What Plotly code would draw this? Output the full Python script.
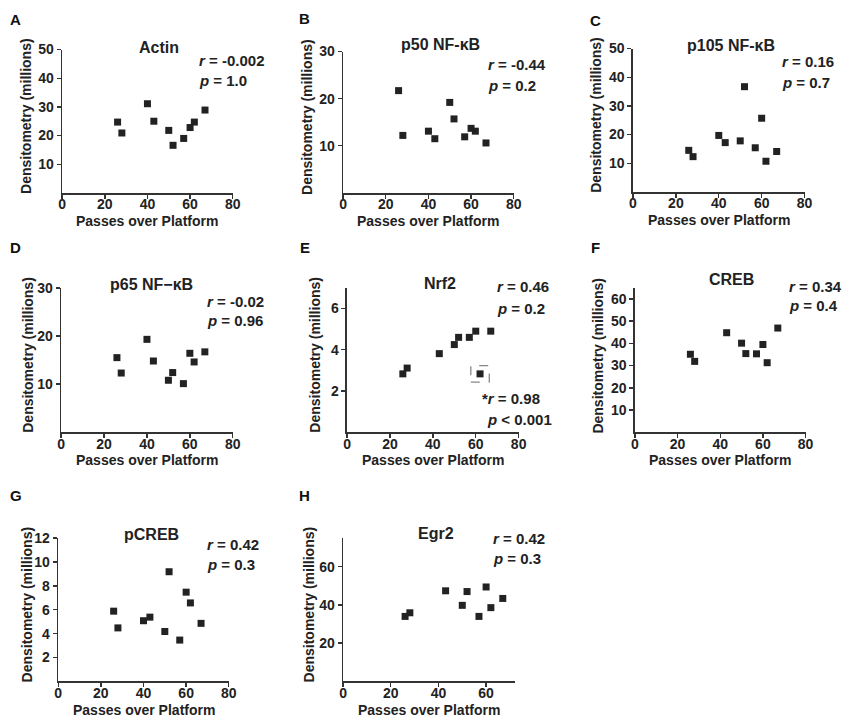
import plotly.graph_objects as go

# ---------------- data ----------------
passes = [26, 28, 40, 43, 50, 52, 57, 60, 62, 67]
passes9 = [26, 28, 43, 50, 52, 57, 60, 62, 67]
nrf2_passes = [26, 28, 43, 50, 52, 57, 60, 67]

actin = [24.7, 20.9, 31.1, 25.0, 21.8, 16.6, 19.0, 22.8, 24.7, 28.9]
p50 = [21.7, 12.2, 13.1, 11.5, 19.2, 15.7, 11.9, 13.7, 13.1, 10.6]
p105 = [14.5, 12.3, 19.7, 17.2, 17.8, 36.7, 15.4, 25.7, 10.7, 14.1]
p65 = [15.5, 12.3, 19.3, 14.8, 10.8, 12.4, 10.1, 16.4, 14.6, 16.7]
nrf2 = [2.83, 3.11, 3.81, 4.25, 4.6, 4.6, 4.9, 4.9]
nrf2_outlier_x = [62]
nrf2_outlier_y = [2.83]
creb = [35.1, 31.9, 44.8, 40.1, 35.4, 35.3, 39.5, 31.3, 46.9]
pcreb = [5.88, 4.48, 5.08, 5.38, 4.18, 9.18, 3.46, 7.47, 6.57, 4.86]
egr2 = [34.0, 35.9, 47.4, 39.8, 47.0, 34.0, 49.4, 38.6, 43.4]

letters = ["A", "B", "C", "D", "E", "F", "G", "H"]
titles = ["Actin", "p50 NF-κB", "p105 NF-κB", "p65 NF−κB", "Nrf2", "CREB", "pCREB", "Egr2"]
r_vals = ["-0.002", "-0.44", "0.16", "-0.02", "0.46", "0.34", "0.42", "0.42"]
p_vals = ["1.0", "0.2", "0.7", "0.96", "0.2", "0.4", "0.3", "0.3"]
y_ranges = [[0, 50], [0, 30], [0, 50], [0, 30], [0, 7], [0, 65], [0, 12], [0, 75]]
y_ticks = [[10, 20, 30, 40, 50], [10, 20, 30], [10, 20, 30, 40, 50], [10, 20, 30],
           [2, 4, 6], [10, 20, 30, 40, 50, 60], [2, 4, 6, 8, 10, 12], [20, 40, 60]]
x_ranges = [[0, 80]] * 7 + [[0, 72]]
x_ticks = [[0, 20, 40, 60, 80]] * 7 + [[0, 20, 40, 60]]
x_title = "Passes over Platform"
y_title = "Densitometry (millions)"

series_x = [passes, passes, passes, passes, nrf2_passes, passes9, passes, passes9]
series_y = [actin, p50, p105, p65, nrf2, creb, pcreb, egr2]

# ---------------- layout geometry (window pixels) ----------------
W, H = 851, 719
# (x0, x1, ytop, ybottom)
boxes = [
    (59, 232, 42, 187), (344, 517, 44, 187), (638, 812, 41, 186),
    (58, 232, 283, 429), (348, 522, 283, 429), (640, 813, 283, 429),
    (55, 228, 536, 681), (344, 518, 536, 681),
]
letter_pos = [(12, 12), (305, 11), (600, 13), (12, 242), (305, 242), (600, 242), (12, 493), (305, 493)]
title_pos = [(157, 40), (443, 37), (737, 38), (150, 280), (442, 279), (738, 275), (150, 532), (438, 531)]
r_pos = [(196, 53), (489, 57), (787, 54), (204, 297), (498, 282), (794, 282), (204, 543), (494, 536)]
p_pos = [(196, 73), (489, 78), (787, 75), (204, 316), (498, 304), (794, 301), (204, 563), (494, 557)]
ytitle_x = [23, 308, 601, 24, 316, 603, 23, 309]

def px(x):
    return x / W

def py(y):
    return 1 - y / H

INK = "#222222"
FONT = "Liberation Sans"

def bold(size, color=INK):
    return dict(family=FONT, size=size, color=color, weight="bold")

def note(text, x, y, size, xanchor="center", angle=0, color=INK):
    return dict(text=text, x=px(x), y=py(y), xref="paper", yref="paper",
                xanchor=xanchor, yanchor="middle", showarrow=False, textangle=angle,
                font=bold(size, color))

fig = go.Figure()
annotations = []
layout = {}

for i in range(8):
    n = "" if i == 0 else str(i + 1)
    x0, x1, yt, yb = boxes[i]
    fig.add_trace(go.Scatter(
        x=series_x[i], y=series_y[i], mode="markers",
        marker=dict(symbol="square", size=7, color=INK),
        xaxis="x" + n, yaxis="y" + n, showlegend=False, cliponaxis=False,
        hoverinfo="skip",
    ))
    axis_common = dict(
        showline=True, linecolor="#333333", linewidth=1.6, ticks="outside",
        ticklen=4, tickwidth=1.4, tickcolor="#333333", showgrid=False, zeroline=False,
        tickfont=bold(14), fixedrange=True,
    )
    layout["xaxis" + n] = dict(axis_common, domain=[px(x0), px(x1)], range=x_ranges[i],
                               tickvals=x_ticks[i], anchor="y" + n, ticklabelstandoff=-6)
    layout["yaxis" + n] = dict(axis_common, domain=[py(yb), py(yt)], range=y_ranges[i],
                               tickvals=y_ticks[i], anchor="x" + n)
    # axis titles
    annotations.append(note(x_title, (x0 + x1) / 2, yb + 28.5, 14))
    annotations.append(note(y_title, ytitle_x[i], (yt + yb) / 2 - 5, 14, angle=-90))
    # panel letter, title, statistics
    annotations.append(note(letters[i], *letter_pos[i], 15, color="#111111"))
    annotations.append(note(titles[i], *title_pos[i], 16))
    annotations.append(note("<i>r</i> = " + r_vals[i], *r_pos[i], 15, xanchor="left"))
    annotations.append(note("<i>p</i> = " + p_vals[i], *p_pos[i], 15, xanchor="left"))

# Nrf2 outlier and its dashed box
fig.add_trace(go.Scatter(
    x=nrf2_outlier_x, y=nrf2_outlier_y, mode="markers",
    marker=dict(symbol="square", size=7, color=INK),
    xaxis="x5", yaxis="y5", showlegend=False, cliponaxis=False, hoverinfo="skip",
))
shapes = [dict(type="rect", xref="x5", yref="y5",
               x0=nrf2_outlier_x[0] - 4.3, x1=nrf2_outlier_x[0] + 4.3,
               y0=nrf2_outlier_y[0] - 0.4, y1=nrf2_outlier_y[0] + 0.4,
               line=dict(color="#888888", width=1.3, dash="dash"))]
annotations.append(note("*<i>r</i> = 0.98", 483, 395, 15, xanchor="left"))
annotations.append(note("<i>p</i> < 0.001", 488, 416, 15, xanchor="left"))

fig.update_layout(
    width=W, height=H, margin=dict(l=0, r=0, t=0, b=0),
    paper_bgcolor="white", plot_bgcolor="white",
    annotations=annotations, shapes=shapes, showlegend=False,
    **layout,
)

fig.write_html(
    "out.html",
    config={"displayModeBar": False, "staticPlot": True},
    post_script="document.body.style.margin='0';document.body.style.overflow='hidden';",
)
